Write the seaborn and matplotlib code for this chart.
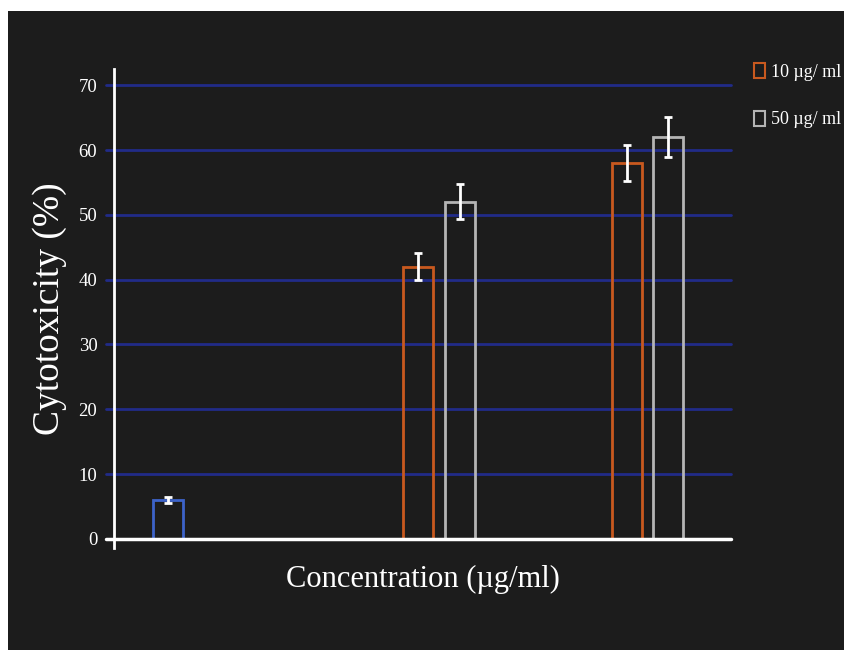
import numpy as np
import pandas as pd
import matplotlib
matplotlib.use("Agg")
import matplotlib.pyplot as plt
from matplotlib.patches import Patch, Rectangle
import seaborn as sns

# ---- data ----
series = ["Control", "10 µg/ ml", "50 µg/ ml", "10 µg/ ml", "50 µg/ ml"]
slots = [0, 6, 7, 11, 12]
values = [6.0, 42.0, 52.0, 58.0, 62.0]
errors = [0.4, 2.1, 2.7, 2.8, 3.1]
legend_labels = ["10 µg/ ml", "50 µg/ ml"]
yticks = [0, 10, 20, 30, 40, 50, 60, 70]

colors = {"Control": "#3d63c9", "10 µg/ ml": "#c8591f", "50 µg/ ml": "#b4b4b4"}
BG = "#1c1c1c"

sns.set_theme(style="dark")
plt.rcParams["font.family"] = ["Liberation Serif", "DejaVu Serif"]

df = pd.DataFrame({"slot": slots, "value": values, "series": series})

fig = plt.figure(figsize=(8.44, 6.5), dpi=100, facecolor="white")
fig.patches.append(Rectangle((8 / 844, 0), 1, (650 - 11) / 650,
                             transform=fig.transFigure, facecolor=BG,
                             edgecolor="none", zorder=-10))
ax = fig.add_axes([114 / 844, (650 - 548) / 650, (731 - 114) / 844, (548 - 69) / 650])
ax.set_facecolor(BG)

sns.barplot(data=df, x="slot", y="value", hue="series", palette=colors,
            native_scale=True, dodge=False, fill=False, linewidth=2,
            width=0.72, errorbar=None, ax=ax, legend=False, zorder=3)
ax.errorbar(slots, values, yerr=errors, fmt="none", ecolor="white",
            elinewidth=2, capsize=3, capthick=2, zorder=5)

ax.set_xlim(-1.3, 13.5)
ax.set_ylim(-1.4, 72.5)
ax.set_yticks(yticks)
ax.set_xticks([])
ax.grid(False)
for t in yticks[1:]:
    ax.axhline(t, color="#212b88", lw=2, zorder=1, xmin=-0.013, xmax=1, clip_on=False)
ax.axhline(0, color="white", lw=2.5, zorder=4, xmin=-0.013, xmax=1, clip_on=False)

for s in ["top", "right", "bottom"]:
    ax.spines[s].set_visible(False)
ax.spines["left"].set_color("white")
ax.spines["left"].set_linewidth(2)
ax.tick_params(axis="y", length=0, pad=12, labelsize=13.5, labelcolor="white")

ax.set_ylabel("Cytotoxicity (%)", fontsize=27, color="white", labelpad=8)
ax.set_xlabel("Concentration (µg/ml)", fontsize=22, color="white", labelpad=12)

handles = [Patch(facecolor="none", edgecolor=colors[l], linewidth=1.5) for l in legend_labels]
leg = fig.legend(handles, legend_labels, loc="upper left",
                 bbox_to_anchor=(738 / 844, 1 - 47 / 650), frameon=False,
                 fontsize=13, labelcolor="white", handlelength=0.6,
                 handleheight=0.9, handletextpad=0.35, labelspacing=1.65)

fig.savefig("out.png", dpi=100, facecolor=fig.get_facecolor())
